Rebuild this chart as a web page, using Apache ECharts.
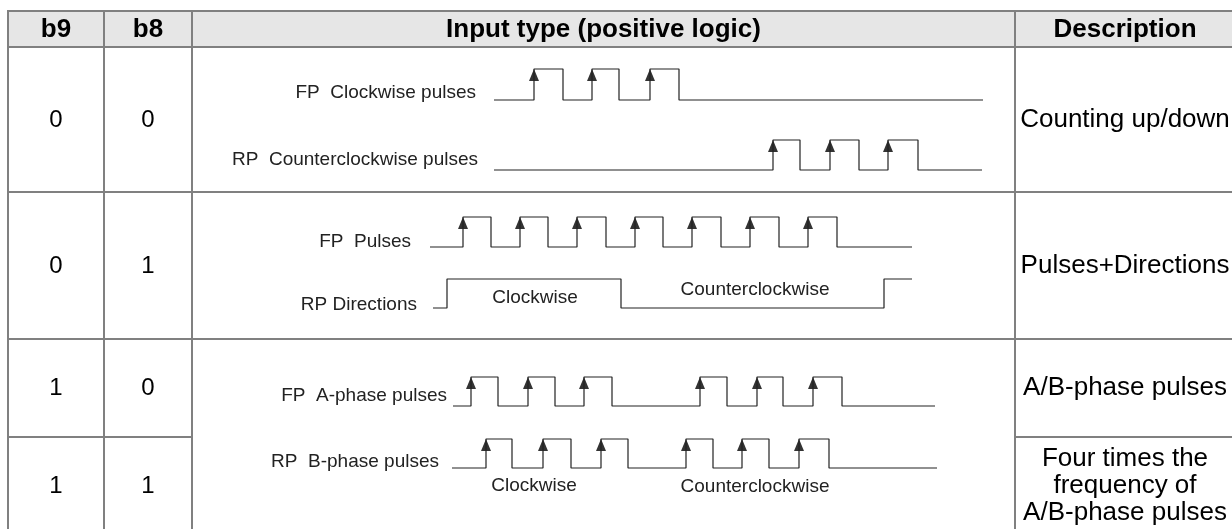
<!DOCTYPE html>
<html><head><meta charset="utf-8">
<script src="https://cdn.jsdelivr.net/npm/echarts@6/dist/echarts.min.js"></script>
<style>html,body{margin:0;padding:0;background:#fff}#c{width:1232px;height:529px}</style>
</head><body><div id="c"></div><script>
// ---- data ----
const headers = ['b9', 'b8', 'Input type (positive logic)', 'Description'];
const b9Values = ['0', '0', '1', '1'];
const b8Values = ['0', '1', '0', '1'];
const descriptions = ['Counting up/down', 'Pulses+Directions', 'A/B-phase pulses', 'Four times the\nfrequency of\nA/B-phase pulses'];
const waveNames = ['FP  Clockwise pulses', 'RP  Counterclockwise pulses', 'FP  Pulses', 'RP Directions', 'FP  A-phase pulses', 'RP  B-phase pulses'];
// timing (diagram time units): span [start, end], rising and falling edges
const fpCwSpan = [494, 983], fpCwRise = [534, 592, 650], fpCwFall = [563, 619, 679];
const rpCcwSpan = [494, 982], rpCcwRise = [773, 830, 888], rpCcwFall = [800, 859, 918];
const fpPulSpan = [430, 912], fpPulRise = [463, 520, 577, 635, 692, 750, 808], fpPulFall = [491, 548, 606, 663, 721, 779, 837];
const rpDirSpan = [433, 912], rpDirRise = [447, 884], rpDirFall = [621];
const fpASpan = [453, 935], fpARise = [471, 528, 584, 700, 757, 813], fpAFall = [498, 555, 612, 727, 783, 842];
const rpBSpan = [452, 937], rpBRise = [486, 543, 601, 686, 742, 799], rpBFall = [512, 571, 628, 713, 769, 829];
const dirLabels = ['Clockwise', 'Counterclockwise'];

// ---- layout ----
const waves = [
  {span: fpCwSpan, rise: fpCwRise, fall: fpCwFall, arrows: true},
  {span: rpCcwSpan, rise: rpCcwRise, fall: rpCcwFall, arrows: true},
  {span: fpPulSpan, rise: fpPulRise, fall: fpPulFall, arrows: true},
  {span: rpDirSpan, rise: rpDirRise, fall: rpDirFall, arrows: false},
  {span: fpASpan, rise: fpARise, fall: fpAFall, arrows: true},
  {span: rpBSpan, rise: rpBRise, fall: rpBFall, arrows: true}
];
const waveY = [[69, 100], [140, 170], [217, 247], [279, 308], [377, 406], [439, 468]]; // [high, low] px
const labelPos = [[476, 93], [478, 160], [411, 242], [417, 305], [447, 396], [439, 462]];

function steps(w) {
  const ev = [];
  w.rise.forEach(t => ev.push([t, 1]));
  w.fall.forEach(t => ev.push([t, 0]));
  ev.sort((a, b) => a[0] - b[0]);
  let lvl = 0;
  const pts = [[w.span[0], 0]];
  ev.forEach(e => { pts.push([e[0], lvl]); lvl = e[1]; pts.push([e[0], lvl]); });
  pts.push([w.span[1], lvl]);
  return pts;
}

const grids = [], xAxes = [], yAxes = [], series = [];
waves.forEach((w, i) => {
  grids.push({left: 0, right: 0, top: waveY[i][0], height: waveY[i][1] - waveY[i][0]});
  xAxes.push({type: 'value', gridIndex: i, min: 0, max: 1232, show: false});
  yAxes.push({type: 'value', gridIndex: i, min: 0, max: 1, show: false});
  series.push({type: 'line', xAxisIndex: i, yAxisIndex: i, data: steps(w), symbol: 'none', clip: false,
    lineStyle: {color: '#222', width: 1.2}, silent: true, animation: false});
  if (w.arrows) {
    series.push({type: 'scatter', xAxisIndex: i, yAxisIndex: i, data: w.rise.map(t => [t, 1]),
      symbol: 'triangle', symbolSize: [10, 12], symbolOffset: [0, 6], clip: false,
      itemStyle: {color: '#000'}, silent: true, animation: false});
  }
});

const FONT = "'Liberation Sans', Arial, sans-serif";
const LINE = '#808080';
const g = [];
g.push({type: 'rect', shape: {x: 8, y: 11, width: 1240, height: 36}, style: {fill: '#e6e6e6'}});
function hl(y, x1, x2) { g.push({type: 'line', shape: {x1: x1, y1: y, x2: x2, y2: y}, style: {stroke: LINE, lineWidth: 2}}); }
function vl(x, y1, y2) { g.push({type: 'line', shape: {x1: x, y1: y1, x2: x, y2: y2}, style: {stroke: LINE, lineWidth: 2}}); }
hl(11, 7, 1240); hl(47, 7, 1240); hl(192, 7, 1240); hl(339, 7, 1240);
hl(437, 7, 192); hl(437, 1015, 1240);
vl(8, 10, 535); vl(104, 10, 535); vl(192, 10, 535); vl(1015, 10, 535);

function txt(s, x, y, size, align, opts) {
  g.push({type: 'text', x: x, y: y, style: Object.assign({text: s, fill: '#000', fontSize: size, fontFamily: FONT,
    align: align, verticalAlign: 'middle'}, opts || {})});
}
const headerX = [56, 148, 603.5, 1125];
headers.forEach((h, i) => txt(h, headerX[i], 29.5, 26, 'center', {fontWeight: 'bold'}));
const rowY = [120, 266, 388, 486];
b9Values.forEach((v, i) => txt(v, 56, rowY[i], 24, 'center'));
b8Values.forEach((v, i) => txt(v, 148, rowY[i], 24, 'center'));
descriptions.forEach((d, i) => txt(d, 1125, rowY[i], 26, 'center', {lineHeight: 27}));
waveNames.forEach((n, i) => txt(n, labelPos[i][0], labelPos[i][1], 19, 'right', {fill: '#222'}));
txt(dirLabels[0], 535, 298, 19, 'center', {fill: '#222'});
txt(dirLabels[1], 755, 290, 19, 'center', {fill: '#222'});
txt(dirLabels[0], 534, 486, 19, 'center', {fill: '#222'});
txt(dirLabels[1], 755, 487, 19, 'center', {fill: '#222'});

const chart = echarts.init(document.getElementById('c'), null, {renderer: 'canvas'});
chart.setOption({
  animation: false,
  backgroundColor: '#fff',
  grid: grids, xAxis: xAxes, yAxis: yAxes, series: series,
  graphic: g
});
</script></body></html>
